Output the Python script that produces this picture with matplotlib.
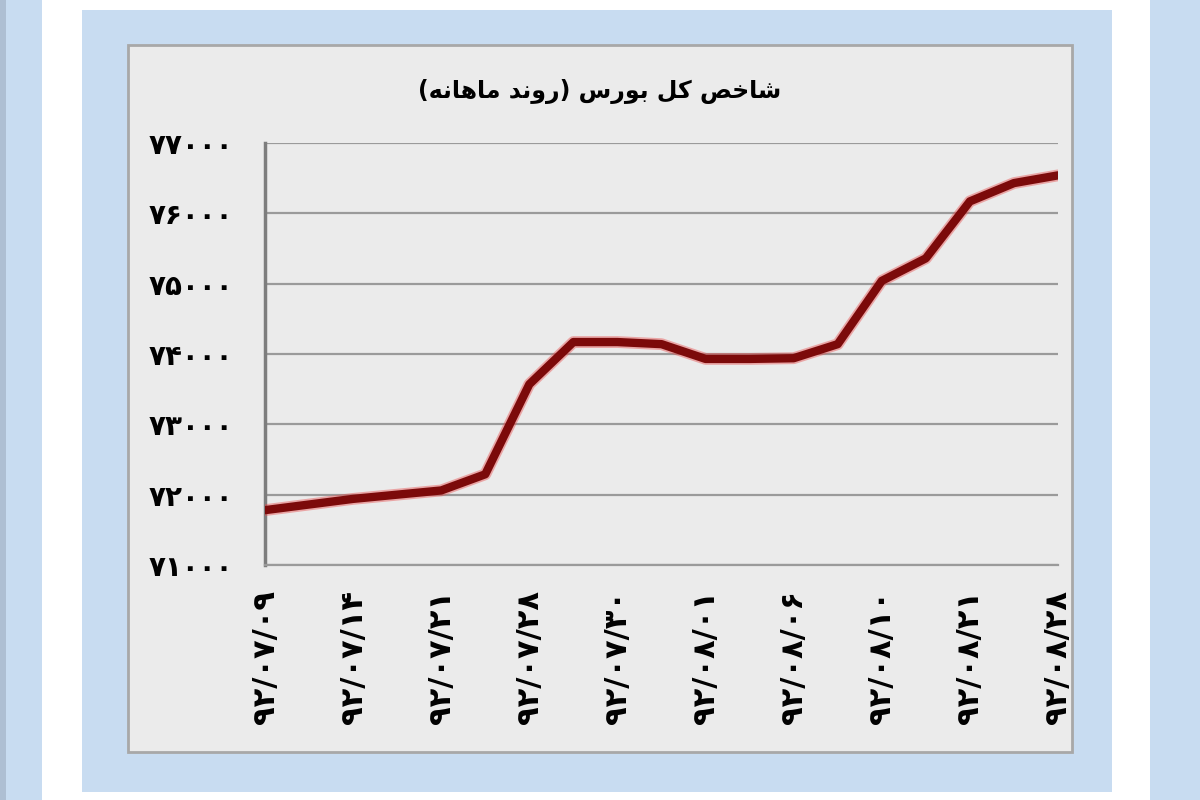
import numpy as np
import matplotlib.pyplot as plt
from matplotlib.patches import Rectangle

# index values (one point per trading day, label every 2nd)
values = [71780, 71860, 71940, 72000, 72060, 72290, 73570, 74170, 74170, 74140,
          73930, 73930, 73940, 74140, 75040, 75360, 76170, 76430, 76540]
date_labels = ['۹۲/۰۷/۰۹', '۹۲/۰۷/۱۴', '۹۲/۰۷/۲۱', '۹۲/۰۷/۲۸', '۹۲/۰۷/۳۰',
               '۹۲/۰۸/۰۱', '۹۲/۰۸/۰۶', '۹۲/۰۸/۱۰', '۹۲/۰۸/۲۱', '۹۲/۰۸/۲۸']
y_ticks = [71000, 72000, 73000, 74000, 75000, 76000, 77000]
title = 'شاخص کل بورس (روند ماهانه)'

# simple arabic shaping since matplotlib has no bidi/joining
forms = {
    'ا': (0xFE8D, 0xFE8E, None, None),
    'ب': (0xFE8F, 0xFE90, 0xFE91, 0xFE92),
    'خ': (0xFEA5, 0xFEA6, 0xFEA7, 0xFEA8),
    'د': (0xFEA9, 0xFEAA, None, None),
    'ر': (0xFEAD, 0xFEAE, None, None),
    'س': (0xFEB1, 0xFEB2, 0xFEB3, 0xFEB4),
    'ش': (0xFEB5, 0xFEB6, 0xFEB7, 0xFEB8),
    'ص': (0xFEB9, 0xFEBA, 0xFEBB, 0xFEBC),
    'ل': (0xFEDD, 0xFEDE, 0xFEDF, 0xFEE0),
    'م': (0xFEE1, 0xFEE2, 0xFEE3, 0xFEE4),
    'ن': (0xFEE5, 0xFEE6, 0xFEE7, 0xFEE8),
    'ه': (0xFEE9, 0xFEEA, 0xFEEB, 0xFEEC),
    'و': (0xFEED, 0xFEEE, None, None),
    'ک': (0xFB8E, 0xFB8F, 0xFB90, 0xFB91),
}


def shape(s):
    out = []
    for i, c in enumerate(s):
        if c not in forms:
            out.append({'(': ')', ')': '('}.get(c, c))
            continue
        prev = s[i - 1] if i > 0 else ''
        nxt = s[i + 1] if i < len(s) - 1 else ''
        jp = prev in forms and forms[prev][2] is not None
        jn = forms[c][2] is not None and nxt in forms
        iso, fin, ini, med = forms[c]
        if jp and jn:
            out.append(chr(med))
        elif jp:
            out.append(chr(fin))
        elif jn:
            out.append(chr(ini))
        else:
            out.append(chr(iso))
    return ''.join(out[::-1])


def fa_num(n):
    return str(n).translate(str.maketrans('0123456789', '۰۱۲۳۴۵۶۷۸۹'))


plt.rcParams['font.family'] = ['DejaVu Sans']
fig = plt.figure(figsize=(12, 8), dpi=100)
fig.patch.set_facecolor('white')

W, H = 1200, 800


def box(x0, y0, x1, y1, **kw):
    fig.patches.append(Rectangle((x0 / W, 1 - y1 / H), (x1 - x0) / W, (y1 - y0) / H,
                                 transform=fig.transFigure, zorder=-10, **kw))


blue = '#c8dcf1'
box(0, 0, 42, 800, facecolor=blue, edgecolor='none')
box(0, 0, 6, 800, facecolor='#aebfd3', edgecolor='none')
box(1150, 0, 1200, 800, facecolor=blue, edgecolor='none')
box(82, 10, 1112, 792, facecolor=blue, edgecolor='none')
box(128, 45, 1072, 752, facecolor='#ebebeb', edgecolor='#a8a8a8', linewidth=2)

ax = fig.add_axes([265 / W, 1 - 565 / H, (1058 - 265) / W, (565 - 143) / H])
ax.patch.set_alpha(0)
x = np.arange(len(values))
ax.plot(x, values, color='#e85050', lw=8.5, alpha=0.45, solid_capstyle='round', zorder=3)
ax.plot(x, values, color='#7c0a0a', lw=6, solid_capstyle='round', zorder=4)

ax.set_xlim(0, len(values) - 1)
ax.set_ylim(71000, 77000)
ax.set_yticks(y_ticks)
ax.set_yticklabels([fa_num(v) for v in y_ticks], fontsize=20, fontweight='bold')
ax.set_xticks(x[::2])
ax.set_xticklabels(date_labels, rotation=90, fontsize=22, fontweight='bold')
ax.tick_params(axis='y', length=0, pad=23)
ax.tick_params(axis='x', length=0, pad=18)
ax.grid(axis='y', color='#9a9a9a', lw=1.6)
ax.set_axisbelow(True)
for s in ['top', 'right']:
    ax.spines[s].set_visible(False)
ax.spines['left'].set_color('#7d7d7d')
ax.spines['left'].set_linewidth(2.5)
ax.spines['bottom'].set_color('#9a9a9a')
ax.spines['bottom'].set_linewidth(1.6)

fig.text(0.5, 1 - 92 / H, shape(title), ha='center', va='center',
         fontsize=17, fontweight='bold')

plt.savefig('out.png', dpi=100)
